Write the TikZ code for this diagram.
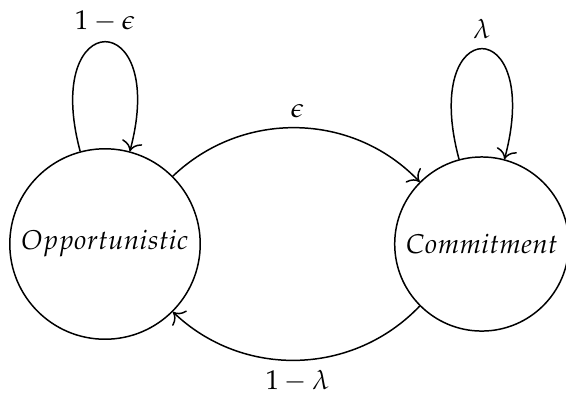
\documentclass[tikz,border=0pt]{standalone}
\usepackage[T1]{fontenc}
\usepackage{mathpazo}
\usetikzlibrary{arrows.meta, positioning}

\begin{document}
\begin{tikzpicture}[
    x=0.01295cm, y=0.01295cm,
    line width=0.55pt,
    state/.style={circle, draw},
    arrow/.style={-{To[scale=1.3]}},
]
\useasboundingbox (0,0) rectangle (566,393);

\node[state] (opp) at (105,149) {$Opportunistic$};
\node[state, right=2.5cm of opp] (com) {$Commitment$};

\draw[arrow] (opp) to[loop above, looseness=7.8] node[above] {$1-\epsilon$} (opp);
\draw[arrow] (com) to[loop above, looseness=8.6] node[above] {$\lambda$} (com);
\draw[arrow] (opp) to[bend left=45] node[above] {$\epsilon$} (com);
\draw[arrow] (com) to[bend left=45] node[below] {$1-\lambda$} (opp);

\end{tikzpicture}
\end{document}
